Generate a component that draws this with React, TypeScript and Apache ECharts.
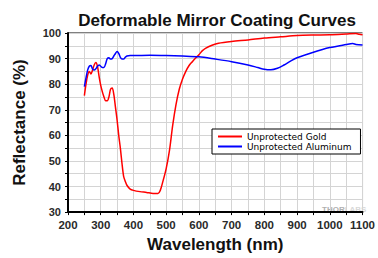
import React, { useEffect, useRef } from "react";
import * as echarts from "echarts";

const goldWavelength = [250, 255, 260, 265, 270, 275, 280, 285, 290, 295, 300, 305, 310, 315, 320, 325, 330, 335, 340, 345, 350, 355, 360, 365, 370, 375, 380, 390, 400, 420, 440, 460, 475, 482, 490, 500, 510, 520, 530, 540, 550, 560, 570, 580, 590, 600, 610, 620, 640, 660, 700, 750, 800, 850, 900, 950, 1000, 1050, 1080, 1090, 1100];
const goldReflectance = [75.5, 80, 83.5, 85, 84, 85.5, 87.5, 88.5, 87, 83, 79.5, 77, 75, 73.5, 73.5, 75, 78, 78.5, 76, 71, 66, 60, 55, 49, 44, 42, 40.5, 39, 38.5, 38, 37.7, 37.3, 37.3, 38.5, 42, 47, 54, 64, 72, 78, 82, 85, 87.3, 88.8, 90.2, 91.5, 93, 94, 95.2, 96, 96.7, 97.3, 98, 98.5, 99, 99.2, 99.3, 99.6, 99.8, 99.5, 99.3];

const aluminumWavelength = [250, 255, 260, 265, 270, 275, 280, 285, 290, 295, 300, 305, 310, 315, 320, 325, 330, 335, 340, 345, 350, 355, 360, 365, 370, 375, 380, 390, 400, 450, 500, 550, 600, 650, 700, 750, 780, 800, 820, 840, 860, 880, 900, 950, 1000, 1050, 1070, 1080, 1100];
const aluminumReflectance = [79, 82.5, 85.5, 87, 87.3, 86, 85.5, 86, 87, 87.5, 87, 86.5, 86.5, 88, 90, 90.3, 89.8, 90, 91, 92, 92.8, 92, 90.5, 89.8, 89.8, 90.5, 91, 91.2, 91.2, 91.3, 91.2, 91, 90.7, 89.8, 88.8, 87.5, 86.5, 85.8, 85.6, 86.2, 87.5, 89, 90.3, 92.5, 94.3, 95.5, 95.9, 95.5, 95.3];

const seriesNames = ["Unprotected Gold", "Unprotected Aluminum"];
const titleText = "Deformable Mirror Coating Curves";
const xName = "Wavelength (nm)";
const yName = "Reflectance (%)";

export default function App() {
  const ref = useRef<HTMLDivElement>(null);
  useEffect(() => {
    if (!ref.current) return;
    const chart = echarts.init(ref.current, null, { renderer: "svg" });
    const font = "'Liberation Sans', Arial, sans-serif";
    const narrow = "'Liberation Sans Narrow', 'Liberation Sans', Arial, sans-serif";
    const gold = goldWavelength.map((x, i) => [x, goldReflectance[i]]);
    const alu = aluminumWavelength.map((x, i) => [x, aluminumReflectance[i]]);
    chart.setOption({
      animation: false,
      backgroundColor: "#fff",
      textStyle: { fontFamily: font },
      title: {
        text: titleText,
        left: 212,
        textAlign: "center",
        top: 7,
        textStyle: { fontFamily: font, fontSize: 17, fontWeight: "bold", color: "#111" },
      },
      grid: {
        left: 68,
        right: 12,
        top: 33,
        bottom: 40,
        show: true,
        borderColor: "#000",
        borderWidth: 1,
      },
      legend: {
        orient: "vertical",
        left: 212,
        top: 129,
        padding: [3, 9, 3, 6],
        itemGap: 1,
        itemWidth: 24,
        itemHeight: 2,
        icon: "rect",
        borderColor: "#000",
        borderWidth: 1,
        backgroundColor: "#fff",
        textStyle: { fontFamily: "'DejaVu Sans', sans-serif", fontSize: 9, color: "#000" },
        data: seriesNames,
      },
      xAxis: {
        type: "value",
        min: 200,
        max: 1100,
        interval: 50,
        name: xName,
        nameLocation: "middle",
        nameGap: 22,
        nameTextStyle: { fontFamily: font, fontSize: 17, fontWeight: "bold", color: "#111" },
        axisLine: { show: true, lineStyle: { color: "#000", width: 2 } },
        axisTick: { show: true, length: 3, inside: false, lineStyle: { color: "#000" } },
        axisLabel: {
          margin: 7,
          fontFamily: narrow,
          fontSize: 11.5,
          fontWeight: "bold",
          color: "#2a2a2a",
          formatter: (v: number) => (v % 100 === 0 ? String(v) : ""),
        },
        splitLine: { show: true, lineStyle: { color: "#d4d4d4", width: 1 } },
      },
      yAxis: {
        type: "value",
        min: 30,
        max: 100,
        interval: 5,
        name: yName,
        nameLocation: "middle",
        nameGap: 40,
        nameTextStyle: { fontFamily: font, fontSize: 17, fontWeight: "bold", color: "#111" },
        axisLine: { show: true, lineStyle: { color: "#000", width: 2 } },
        axisTick: { show: true, length: 3, inside: false, lineStyle: { color: "#000" } },
        axisLabel: {
          margin: 7,
          fontFamily: font,
          fontSize: 11,
          fontWeight: "bold",
          color: "#2a2a2a",
          formatter: (v: number) => (v % 10 === 0 ? String(v) : ""),
        },
        splitLine: { show: true, lineStyle: { color: "#d4d4d4", width: 1 } },
      },
      graphic: [
        {
          type: "text",
          left: 322,
          top: 205,
          style: {
            text: "{a|THOR}{b|LABS}",
            rich: {
              a: { fontFamily: font, fontSize: 8, fontWeight: "bold", fill: "#b0b0b0" },
              b: { fontFamily: font, fontSize: 8, fontWeight: "bold", fill: "#d8d8d8" },
            },
          },
        },
      ],
      series: [
        {
          name: seriesNames[0],
          type: "line",
          data: gold,
          smooth: 0.3,
          showSymbol: false,
          lineStyle: { color: "#ff0000", width: 1.5 },
          itemStyle: { color: "#ff0000" },
        },
        {
          name: seriesNames[1],
          type: "line",
          data: alu,
          smooth: 0.3,
          showSymbol: false,
          lineStyle: { color: "#0000ff", width: 1.5 },
          itemStyle: { color: "#0000ff" },
        },
      ],
    });
    return () => chart.dispose();
  }, []);
  return <div ref={ref} style={{ width: 378, height: 258, position: "absolute", left: 0, top: 0 }} />;
}
